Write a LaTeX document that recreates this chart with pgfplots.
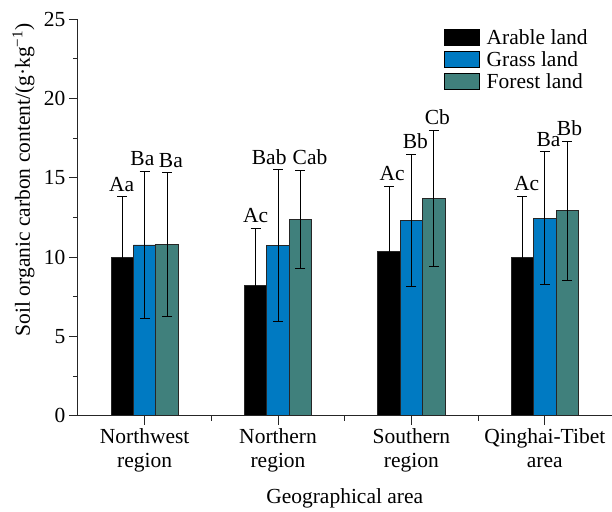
\documentclass[border=0pt]{standalone}
\usepackage{fontspec}
\setmainfont{Liberation Serif}
\usepackage{pgfplots}
\pgfplotsset{compat=1.18}
\definecolor{gblue}{RGB}{0,122,194}
\definecolor{fteal}{RGB}{64,128,124}
\newcommand\ff{\fontsize{21.5}{24}\selectfont}
\begin{document}
\begin{tikzpicture}
\begin{axis}[
  name=ax,
  scale only axis,
  width=534pt, height=396.7pt,
  ybar=0pt, bar width=0.168,
  xmin=-0.5, xmax=3.5,
  ymin=0, ymax=25,
  axis lines*=left,
  axis line style={line width=1pt, black!85},
  tick align=outside,
  major tick length=9pt,
  minor tick length=5pt,
  tick style={line width=0.9pt, black!85},
  xtick={0,1,2,3},
  minor xtick={0.5,1.5,2.5},
  xticklabels={Northwest\\region, Northern\\region, Southern\\region, Qinghai-Tibet\\area},
  xticklabel style={align=center, font=\ff},
  ytick={0,5,10,15,20,25},
  minor ytick={2.5,7.5,12.5,17.5,22.5},
  yticklabel style={font=\ff},
  /pgf/number format/assume math mode=true,
  xlabel={Geographical area},
  xlabel style={font=\ff, at={(axis description cs:0.5,0)}, anchor=base, yshift=-88pt},
  ylabel={Soil organic carbon content/(g·kg\textsuperscript{−1})},
  ylabel style={font=\ff, at={(axis description cs:-0.102,0.595)}, anchor=center},
  legend image code/.code={\draw[#1, draw=black, line width=0.8pt] (0pt,-8pt) rectangle (35pt,8pt);},
  legend style={at={(axis description cs:0.68,0.982)}, anchor=north west, draw=none, fill=none, font=\ff, nodes={inner sep=1pt}, row sep=3.5pt,
    /tikz/every odd column/.append style={column sep=6pt}},
  legend cell align=left,
  error bars/error bar style={line width=1pt, black},
  error bars/error mark options={rotate=90, mark size=5pt, line width=1pt, black},
]
\addplot[fill=black, draw=black!85, line width=0.8pt, error bars/.cd, y dir=both, y explicit]
  coordinates {(0,9.97) +- (0,3.85) (1,8.19) +- (0,3.63) (2,10.35) +- (0,4.12) (3,10.0) +- (0,3.84)};
\addplot[fill=gblue, draw=black!85, line width=0.8pt, error bars/.cd, y dir=both, y explicit]
  coordinates {(0,10.77) +- (0,4.66) (1,10.74) +- (0,4.78) (2,12.31) +- (0,4.19) (3,12.44) +- (0,4.19)};
\addplot[fill=fteal, draw=black!85, line width=0.8pt, error bars/.cd, y dir=both, y explicit]
  coordinates {(0,10.80) +- (0,4.53) (1,12.37) +- (0,3.11) (2,13.70) +- (0,4.30) (3,12.93) +- (0,4.38)};
\legend{Arable land, Grass land, Forest land}
% significance letters
\node[font=\ff, anchor=base, yshift=5.5pt, inner sep=0pt] at (axis cs:-0.172,13.82) {Aa};
\node[font=\ff, anchor=base, yshift=5.5pt, inner sep=0pt] at (axis cs:-0.017,15.43) {Ba};
\node[font=\ff, anchor=base, yshift=5.5pt, inner sep=0pt] at (axis cs:0.197,15.33) {Ba};
\node[font=\ff, anchor=base, yshift=5.5pt, inner sep=0pt] at (axis cs:0.832,11.82) {Ac};
\node[font=\ff, anchor=base, yshift=5.5pt, inner sep=0pt] at (axis cs:0.934,15.52) {Bab};
\node[font=\ff, anchor=base, yshift=5.5pt, inner sep=0pt] at (axis cs:1.24,15.48) {Cab};
\node[font=\ff, anchor=base, yshift=5.5pt, inner sep=0pt] at (axis cs:1.856,14.47) {Ac};
\node[font=\ff, anchor=base, yshift=5.5pt, inner sep=0pt] at (axis cs:2.03,16.50) {Bb};
\node[font=\ff, anchor=base, yshift=5.5pt, inner sep=0pt] at (axis cs:2.194,18.00) {Cb};
\node[font=\ff, anchor=base, yshift=5.5pt, inner sep=0pt] at (axis cs:2.863,13.84) {Ac};
\node[font=\ff, anchor=base, yshift=5.5pt, inner sep=0pt] at (axis cs:3.028,16.63) {Ba};
\node[font=\ff, anchor=base, yshift=5.5pt, inner sep=0pt] at (axis cs:3.185,17.31) {Bb};
\end{axis}
\path ([xshift=-78pt,yshift=-93pt]ax.south west) rectangle ([yshift=19.3pt]ax.north east);
\end{tikzpicture}
\end{document}
